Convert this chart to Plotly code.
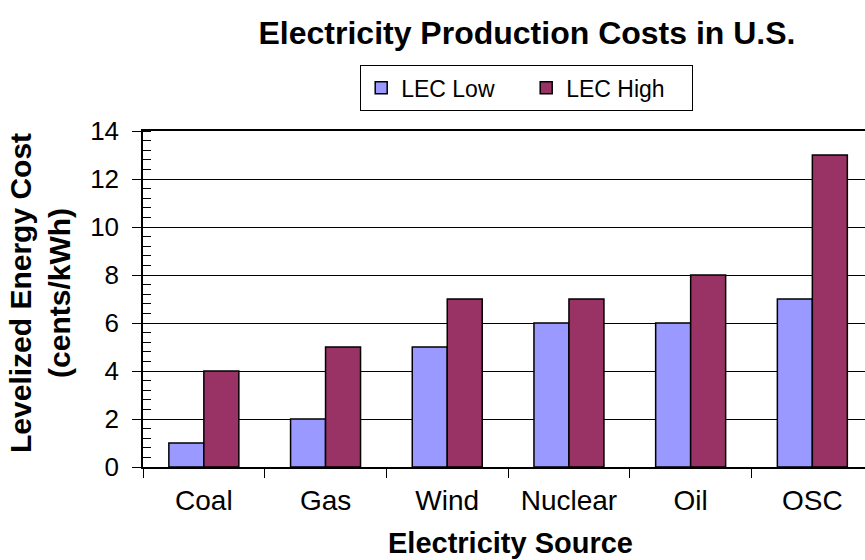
import plotly.graph_objects as go

# Levelized energy cost by electricity source (cents/kWh)
sources = ["Coal", "Gas", "Wind", "Nuclear", "Oil", "OSC"]
lec_low = [1, 2, 5, 6, 6, 7]
lec_high = [4, 5, 7, 7, 8, 13]

W, H = 865, 560
L, R, T, B = 143, 0, 131, 93
PW, PH = W - L - R, H - T - B
FONT = "Arial, Liberation Sans, sans-serif"


def px_x(p):
    return (p - L) / PW


def px_y(p):
    return (H - B - p) / PH


fig = go.Figure()
fig.add_trace(go.Bar(
    name="LEC Low", x=sources, y=lec_low,
    marker=dict(color="#9999FF", line=dict(color="black", width=1.5)),
))
fig.add_trace(go.Bar(
    name="LEC High", x=sources, y=lec_high,
    marker=dict(color="#993366", line=dict(color="black", width=1.5)),
))

fig.update_layout(
    width=W, height=H,
    margin=dict(l=L, r=R, t=T, b=B, pad=0),
    paper_bgcolor="white", plot_bgcolor="white",
    font=dict(family=FONT, color="black", size=25),
    barmode="group", bargap=0.425, bargroupgap=0,
    title=dict(
        text="<b>Electricity Production Costs in U.S.</b>",
        font=dict(size=32, family=FONT, color="black"),
        x=527 / W, xref="container", xanchor="center",
        y=1 - 33 / H, yref="container", yanchor="middle",
    ),
    legend=dict(
        orientation="h",
        x=px_x(360), xanchor="left",
        y=px_y(65), yanchor="top",
        bordercolor="black", borderwidth=1.2,
        font=dict(size=23, family=FONT),
        itemwidth=30, traceorder="normal",
        entrywidthmode="pixels", entrywidth=120,
    ),
    showlegend=True,
)

fig.update_xaxes(
    type="category",
    range=[-0.5, -0.5 + PW / 121.7],
    showline=True, linecolor="black", linewidth=1.5, mirror=True,
    ticks="outside", ticklen=9, tickwidth=1.2, tickcolor="black",
    tickson="boundaries", ticklabelstandoff=8,
    tickfont=dict(size=28, family=FONT),
    showgrid=False,
)
fig.update_yaxes(
    range=[0, 14], dtick=2, tick0=0,
    showline=True, linecolor="black", linewidth=1.5,
    ticks="outside", ticklen=9, tickwidth=1.2, tickcolor="black",
    ticklabelstandoff=8,
    tickfont=dict(size=26, family=FONT),
    showgrid=True, gridcolor="black", gridwidth=1,
    zeroline=False,
    minor=dict(dtick=0.4, tick0=0, ticks="inside", ticklen=8,
               tickwidth=1.2, tickcolor="black", showgrid=False),
)

fig.add_annotation(
    text="<b>Electricity Source</b>", showarrow=False,
    xref="paper", yref="paper", x=px_x(510), y=px_y(543),
    xanchor="center", yanchor="middle",
    font=dict(size=29, family=FONT, color="black"),
)
fig.add_annotation(
    text="<b>Levelized Energy Cost<br>(cents/kWh)</b>", showarrow=False,
    xref="paper", yref="paper", x=px_x(40), y=px_y(293),
    xanchor="center", yanchor="middle", textangle=-90,
    font=dict(size=30, family=FONT, color="black"),
)

fig.write_html("out.html")
